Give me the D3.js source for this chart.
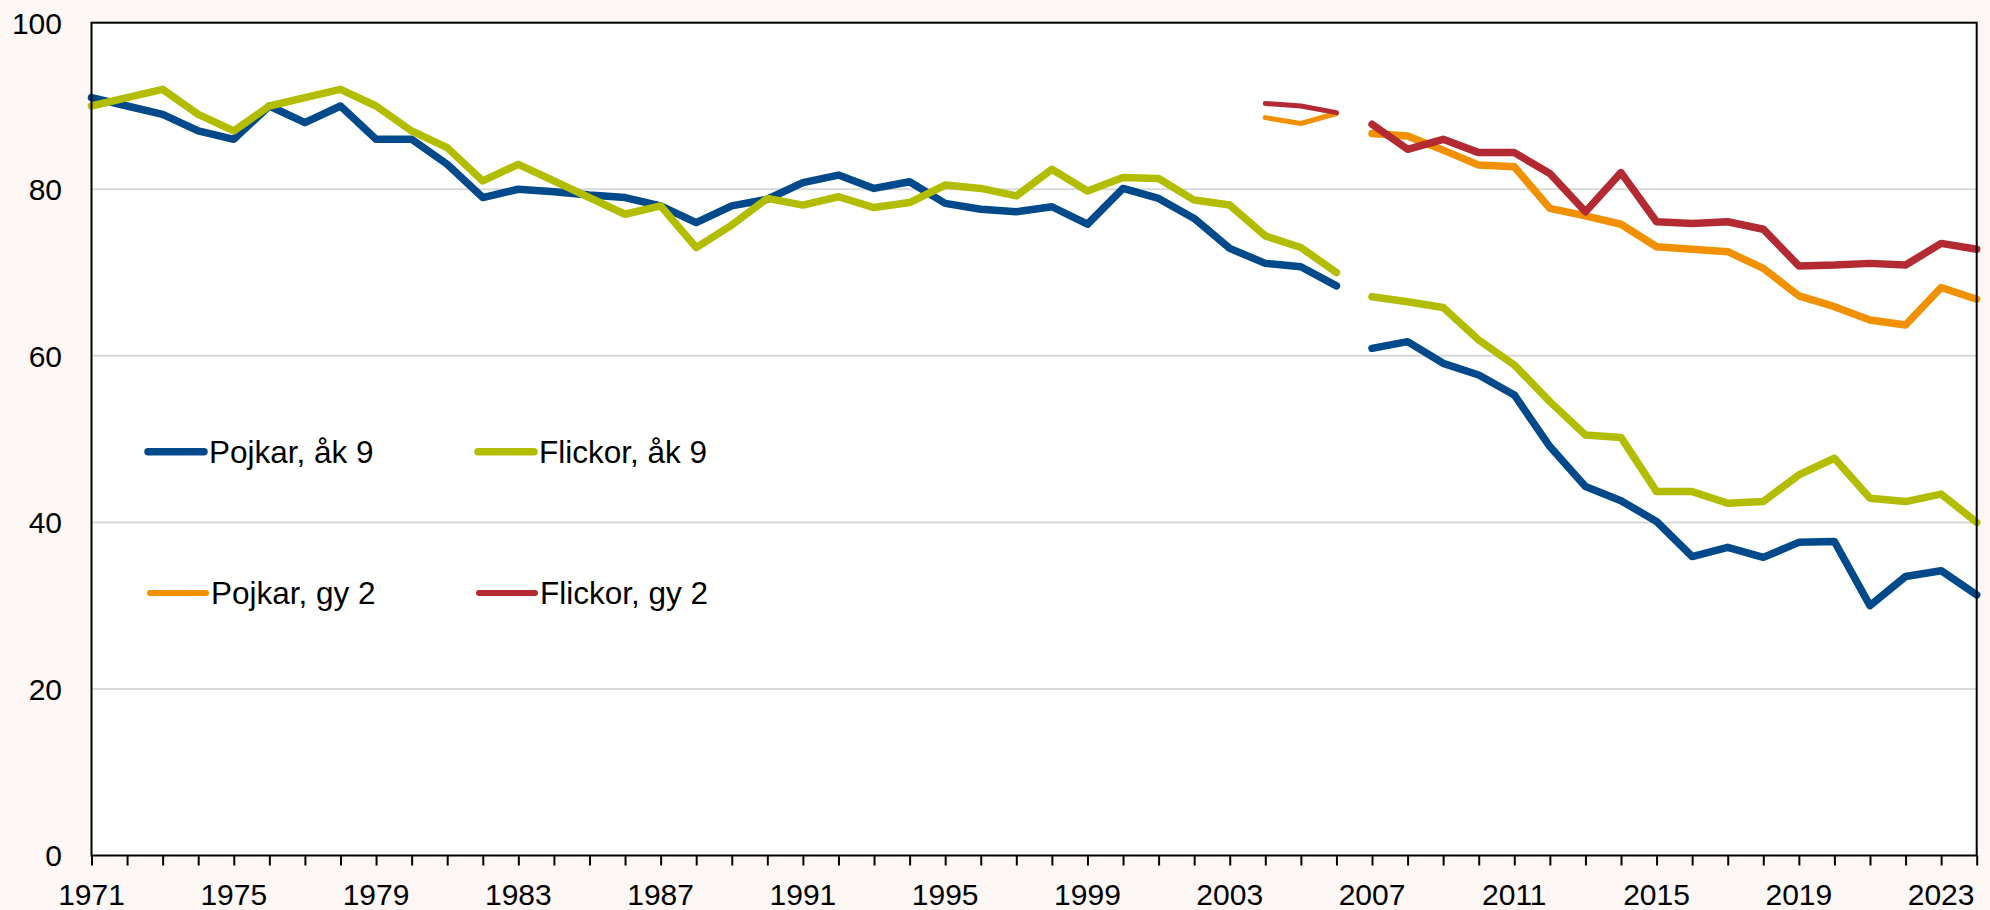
<!DOCTYPE html>
<html lang="sv">
<head>
<meta charset="UTF-8">
<title>Andel elever</title>
<script src="https://d3js.org/d3.v7.min.js"></script>
<style>
  html, body { margin: 0; padding: 0; background: #fcf6f5; }
  svg { display: block; }
  text { font-family: Arial, "Liberation Sans", sans-serif; fill: #000; }
</style>
</head>
<body>
<svg width="1990" height="910"></svg>
<script>
// år 9-serierna 1971-2024
const years = [1971,1972,1973,1974,1975,1976,1977,1978,1979,1980,1981,1982,1983,1984,1985,1986,1987,1988,1989,1990,
  1991,1992,1993,1994,1995,1996,1997,1998,1999,2000,2001,2002,2003,2004,2005,2006,2007,2008,2009,2010,
  2011,2012,2013,2014,2015,2016,2017,2018,2019,2020,2021,2022,2023,2024];
const pojkarAk9 = [91,90,89,87,86,90,88,90,86,86,83,79,80,79.7,79.3,79,78,76,78,78.8,
  80.8,81.7,80.1,80.9,78.3,77.6,77.3,77.9,75.8,80.1,78.9,76.5,72.9,71.1,70.7,68.4,60.9,61.7,59.1,57.7,
  55.3,49.1,44.3,42.6,40.1,35.9,37.0,35.8,37.6,37.7,30.0,33.5,34.2,31.3];
const flickorAk9 = [90,91,92,89,87,90,91,92,90,87,85,81,83,81,79,77,78,73,75.7,78.9,
  78.1,79.1,77.8,78.4,80.5,80.1,79.2,82.4,79.8,81.4,81.3,78.7,78.1,74.4,73.0,70.0,67.1,66.5,65.8,61.9,
  58.9,54.5,50.5,50.2,43.7,43.7,42.3,42.5,45.7,47.7,42.9,42.5,43.4,40.0];

// gy 2-serierna 2004-2024
const gyYears = [2004,2005,2006,2007,2008,2009,2010,2011,2012,2013,2014,2015,2016,2017,2018,2019,2020,2021,2022,2023,2024];
const pojkarGy2 = [88.6,87.9,89.1,86.7,86.4,84.7,82.9,82.7,77.7,76.8,75.8,73.1,72.8,72.5,70.5,67.2,65.9,64.3,63.7,68.2,66.8];
const flickorGy2 = [90.3,90.0,89.2,87.8,84.8,86.0,84.4,84.4,81.9,77.3,82.0,76.1,75.9,76.1,75.2,70.8,70.9,71.1,70.9,73.5,72.8];

const breakYear = 2006; // brott i serierna mellan 2006 och 2007
const yTicks = [0,20,40,60,80,100];
const xLabels = [1971,1975,1979,1983,1987,1991,1995,1999,2003,2007,2011,2015,2019,2023];

const series = [
  { name: "Pojkar, åk 9",  x: years,   v: pojkarAk9,  color: "#004a8b", w: 7.5, wEarly: 7.5, wLegend: 7.5 },
  { name: "Flickor, åk 9", x: years,   v: flickorAk9, color: "#b3bd00", w: 7.5, wEarly: 7.5, wLegend: 7.5 },
  { name: "Pojkar, gy 2",  x: gyYears, v: pojkarGy2,  color: "#f29100", w: 7.5, wEarly: 5,   wLegend: 6 },
  { name: "Flickor, gy 2", x: gyYears, v: flickorGy2, color: "#b32a32", w: 7.5, wEarly: 5,   wLegend: 6 }
];

const plotLeft = 91.5, plotRight = 1976.7, plotTop = 22.7, plotBottom = 855.5;
const svg = d3.select("svg");

const x = d3.scaleLinear().domain([1971, 2024]).range([plotLeft, plotRight]);
const y = d3.scaleLinear().domain([0, 100]).range([plotBottom, plotTop]);

svg.append("rect")
  .attr("x", plotLeft).attr("y", plotTop)
  .attr("width", plotRight - plotLeft).attr("height", plotBottom - plotTop)
  .attr("fill", "#fff");

// stödlinjer
svg.append("g").selectAll("line")
  .data(yTicks.filter(d => d > 0 && d < 100))
  .enter().append("line")
  .attr("x1", plotLeft).attr("x2", plotRight)
  .attr("y1", d => y(d)).attr("y2", d => y(d))
  .attr("stroke", "#d9d9d9").attr("stroke-width", 2);

// x-axel med årsstreck
const xAxis = svg.append("g")
  .attr("transform", `translate(0,${plotBottom})`)
  .call(d3.axisBottom(x).tickValues(years).tickSize(10).tickFormat(""));
xAxis.select(".domain").remove();
xAxis.selectAll("line").attr("stroke", "#000").attr("stroke-width", 2);

svg.append("g").selectAll("text")
  .data(xLabels)
  .enter().append("text")
  .attr("x", d => x(d))
  .attr("y", 905)
  .attr("text-anchor", "middle")
  .style("font-size", "30px")
  .text(d => d);

svg.append("g").selectAll("text")
  .data(yTicks)
  .enter().append("text")
  .attr("x", 62)
  .attr("y", d => y(d))
  .attr("dy", "0.36em")
  .attr("text-anchor", "end")
  .style("font-size", "30px")
  .text(d => d);

// linjer, delade vid seriebrottet
const line = d3.line().x(d => x(d[0])).y(d => y(d[1]));
series.forEach(s => {
  const pts = s.x.map((yr, i) => [yr, s.v[i]]);
  const parts = [pts.filter(p => p[0] <= breakYear), pts.filter(p => p[0] > breakYear)];
  parts.forEach((p, i) => {
    svg.append("path")
      .datum(p)
      .attr("d", line)
      .attr("fill", "none")
      .attr("stroke", s.color)
      .attr("stroke-width", i === 0 ? s.wEarly : s.w)
      .attr("stroke-linejoin", "round")
      .attr("stroke-linecap", "round");
  });
});

// ram runt diagrammet
svg.append("rect")
  .attr("x", plotLeft).attr("y", plotTop)
  .attr("width", plotRight - plotLeft).attr("height", plotBottom - plotTop)
  .attr("fill", "none").attr("stroke", "#000").attr("stroke-width", 2);

// förklaring
const legendPos = [[148, 451.7], [478, 451.7], [150, 593], [479, 593]];
series.forEach((s, i) => {
  const [lx, ly] = legendPos[i];
  const g = svg.append("g").attr("transform", `translate(${lx},${ly})`);
  g.append("line")
    .attr("x1", 0).attr("x2", 56)
    .attr("stroke", s.color)
    .attr("stroke-width", s.wLegend)
    .attr("stroke-linecap", "round");
  g.append("text")
    .attr("x", 61)
    .attr("dy", "0.36em")
    .style("font-size", "31.5px")
    .text(s.name);
});
</script>
</body>
</html>
